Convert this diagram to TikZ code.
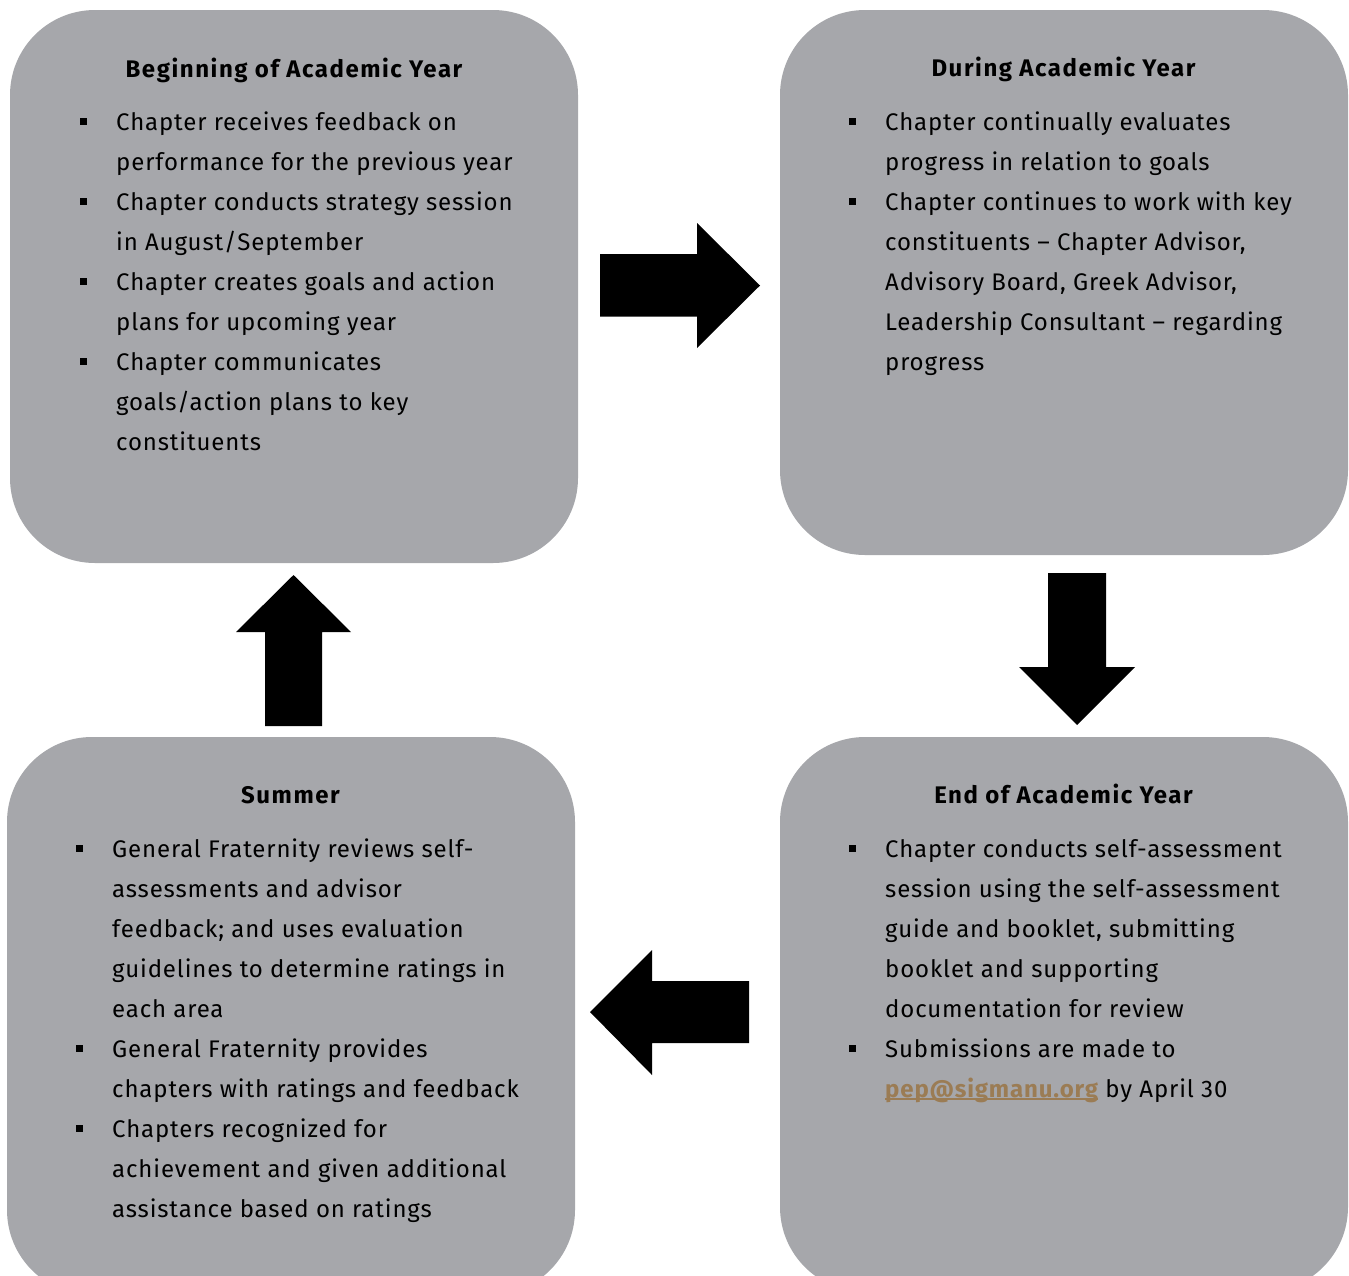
\documentclass[tikz,border=0pt]{standalone}
\usepackage{fontspec}
\setmainfont{Fira Sans}[LetterSpace=3.6]
\newfontfamily\headfont{Fira Sans}[LetterSpace=6.5]
\definecolor{panelgray}{RGB}{166,167,171}
\definecolor{linkbrown}{RGB}{155,124,84}
% square bullet hanging to the left of the text column
\newcommand\sqbul{\leavevmode\llap{\raisebox{5pt}{\rule{7.5pt}{7.5pt}}\hspace{29pt}}}
% underlined e-mail link, rule crossing the descenders
\newcommand\maillink[1]{\leavevmode{\color{linkbrown}\bfseries\setbox0\hbox{#1}\rlap{\rule[-3pt]{\wd0}{1.6pt}}\box0}}
\begin{document}
\begin{tikzpicture}[x=1pt,y=-1pt,
  panel/.style={fill=panelgray, draw=none, rounded corners=85pt, inner sep=0pt, minimum width=568pt},
  heading/.style={anchor=base, inner sep=0pt, font=\headfont\fontsize{24}{28}\selectfont\bfseries},
  body/.style={anchor=base west, inner sep=0pt},
  blockarrow/.style={fill=black, draw=none}]
\useasboundingbox (0,0) rectangle (1349,1275);
\clip (0,0) rectangle (1349,1275);

% four stage panels
\node[panel, minimum height=553pt] (begin) at (294,286.5) {};
\node[panel, minimum height=545pt] (during) at (1064,282.5) {};
\node[panel, minimum height=558pt] (summer) at (291,1016) {};
\node[panel, minimum height=555pt] (end) at (1064,1014.5) {};

% headings
\node[heading] (hbegin) at (294,77) {Beginning of Academic Year};
\node[heading] (hduring) at (1063.5,76) {During Academic Year};
\node[heading] (hsummer) at (290.5,803) {Summer};
\node[heading] (hend) at (1063.5,803) {End of Academic Year};

% bullet lists
\node[body] (lbegin) at (116,130) {\parbox[t]{480pt}{\fontsize{24}{40}\selectfont\raggedright
\sqbul Chapter receives feedback on\\
performance for the previous year\\
\sqbul Chapter conducts strategy session\\
in August/September\\
\sqbul Chapter creates goals and action\\
plans for upcoming year\\
\sqbul Chapter communicates\\
goals/action plans to key\\
constituents}};

\node[body] (lduring) at (885,130) {\parbox[t]{480pt}{\fontsize{24}{40}\selectfont\raggedright
\sqbul Chapter continually evaluates\\
progress in relation to goals\\
\sqbul Chapter continues to work with key\\
constituents – Chapter Advisor,\\
Advisory Board, Greek Advisor,\\
Leadership Consultant – regarding\\
progress}};

\node[body] (lsummer) at (112,857) {\parbox[t]{480pt}{\fontsize{24}{40}\selectfont\raggedright
\sqbul General Fraternity reviews self-\\
assessments and advisor\\
feedback; and uses evaluation\\
guidelines to determine ratings in\\
each area\\
\sqbul General Fraternity provides\\
chapters with ratings and feedback\\
\sqbul Chapters recognized for\\
achievement and given additional\\
assistance based on ratings}};

\node[body] (lend) at (885,857) {\parbox[t]{480pt}{\fontsize{24}{40}\selectfont\raggedright
\sqbul Chapter conducts self-assessment\\
session using the self-assessment\\
guide and booklet, submitting\\
booklet and supporting\\
documentation for review\\
\sqbul Submissions are made to\\
\maillink{pep@sigmanu.org} by April 30}};

% block arrows between the stages
\fill[blockarrow] (600,254) -- (697,254) -- (697,223) -- (760,285.5) -- (697,348) -- (697,316.5) -- (600,316.5) -- cycle;
\fill[blockarrow] (1048,573) -- (1106,573) -- (1106,667) -- (1135,667) -- (1077,725) -- (1019,667) -- (1048,667) -- cycle;
\fill[blockarrow] (749,981) -- (652,981) -- (652,950) -- (590,1012) -- (652,1075) -- (652,1043) -- (749,1043) -- cycle;
\fill[blockarrow] (265,726) -- (265,632) -- (236,632) -- (293.5,575) -- (351,632) -- (322,632) -- (322,726) -- cycle;
\end{tikzpicture}
\end{document}
